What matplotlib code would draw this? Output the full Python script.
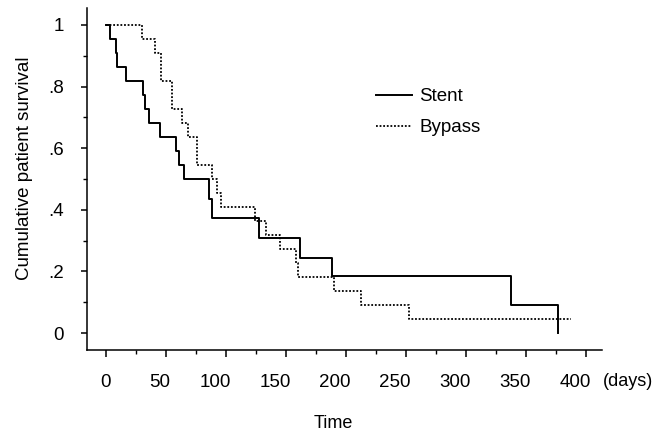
import matplotlib
matplotlib.use("Agg")
import matplotlib.pyplot as plt
import matplotlib.transforms as mtransforms
from matplotlib.ticker import MultipleLocator

plt.rcParams["font.family"] = ["Liberation Sans", "DejaVu Sans"]

# Kaplan-Meier steps (days, cumulative survival)
stent_days = [0, 4, 9, 9.5, 17, 31, 33, 36.5, 45, 59, 61.5, 65, 86, 89,
              128, 162, 189, 338, 377]
stent_surv = [1.0, 0.955, 0.909, 0.864, 0.818, 0.773, 0.727, 0.682, 0.636,
              0.591, 0.545, 0.5, 0.435, 0.372, 0.307, 0.245, 0.185, 0.09, 0.0]

bypass_days = [0, 30, 41, 46, 55, 64, 69, 76.5, 88.5, 92.5, 96, 124.5, 134,
               145.5, 158.5, 160, 190, 213, 253, 388]
bypass_surv = [1.0, 0.955, 0.909, 0.818, 0.727, 0.682, 0.636, 0.545, 0.5,
               0.455, 0.409, 0.364, 0.318, 0.273, 0.227, 0.182, 0.136, 0.091,
               0.045, 0.045]

x_ticks = [0, 50, 100, 150, 200, 250, 300, 350, 400]
y_ticks = [0, 0.2, 0.4, 0.6, 0.8, 1.0]
y_tick_labels = ["0", ".2", ".4", ".6", ".8", "1"]

fig = plt.figure(figsize=(6.68, 4.33), dpi=100)
ax = fig.add_axes([0.1298, 0.1917, 0.7710, 0.7891])

ax.step(stent_days, stent_surv, where="post", color="black", lw=1.4,
        label="Stent")
ax.step(bypass_days, bypass_surv, where="post", color="black", lw=1.3,
        linestyle=(0, (1, 1)), label="Bypass")

ax.set_xlim(-15.7, 413.5)
ax.set_ylim(-0.055, 1.054)

for s in ["top", "right"]:
    ax.spines[s].set_visible(False)
for s in ["left", "bottom"]:
    ax.spines[s].set_linewidth(1.1)

ax.set_xticks(x_ticks)
ax.set_xticklabels([str(t) for t in x_ticks])
ax.xaxis.set_minor_locator(MultipleLocator(25))
ax.set_yticks(y_ticks)
ax.set_yticklabels(y_tick_labels)
ax.yaxis.set_minor_locator(MultipleLocator(0.1))

ax.tick_params(axis="x", which="major", length=5, width=1.1, pad=12,
               labelsize=13.5)
ax.tick_params(axis="y", which="major", length=4.5, width=1.1, pad=12,
               labelsize=13.5)
ax.tick_params(which="minor", length=3, width=1.0)

shift = mtransforms.ScaledTranslation(0.05, 0, fig.dpi_scale_trans)
for lbl in ax.get_xticklabels():
    lbl.set_ha("right")
    lbl.set_transform(lbl.get_transform() + shift)

fig.text(0.9027, 0.1185, "(days)", fontsize=13, ha="left", va="center")

ax.set_xlabel("Time", fontsize=13, va="top")
ax.xaxis.set_label_coords(0.478, -0.19)
ax.set_ylabel("Cumulative patient survival", fontsize=13.5)
ax.yaxis.set_label_coords(-0.105, 0.533)

ax.legend(loc="upper left", bbox_to_anchor=(376 / 668, 1 - 88 / 433),
          bbox_transform=fig.transFigure, frameon=False, fontsize=13.5,
          handlelength=1.9, handletextpad=0.4, labelspacing=0.75,
          borderpad=0, borderaxespad=0)

fig.savefig("out.png", dpi=100)
